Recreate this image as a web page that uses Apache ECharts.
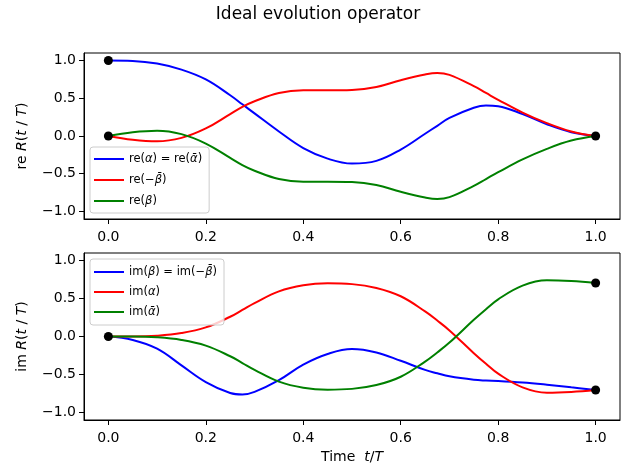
<!DOCTYPE html>
<html><head><meta charset="utf-8">
<script src="https://cdn.jsdelivr.net/npm/echarts@6/dist/echarts.min.js"></script>
<style>html,body{margin:0;padding:0;background:#fff}#c{width:636px;height:468px}</style>
</head><body><div id="c"></div><script>
// ---- data ----
const tVals = [0,0.05,0.1,0.15,0.2,0.25,0.275,0.3,0.35,0.4,0.45,0.5,0.55,0.6,0.65,0.675,0.7,0.75,0.775,0.8,0.85,0.9,0.95,1.0];
const xTicks = [0,0.2,0.4,0.6,0.8,1.0];
const yTicks = [-1,-0.5,0,0.5,1];
// top panel (real parts)
const reAlpha        = [1.0,0.995,0.96,0.88,0.75,0.54,0.42,0.30,0.06,-0.16,-0.30,-0.365,-0.33,-0.18,0.03,0.135,0.24,0.375,0.405,0.395,0.29,0.155,0.05,0];
const reMinusBetaBar = [0,-0.05,-0.07,-0.025,0.10,0.29,0.385,0.46,0.57,0.605,0.605,0.61,0.65,0.74,0.815,0.835,0.81,0.66,0.57,0.48,0.31,0.17,0.06,0];
const reBeta         = [0,0.05,0.07,0.025,-0.10,-0.29,-0.385,-0.46,-0.57,-0.605,-0.605,-0.61,-0.65,-0.74,-0.815,-0.835,-0.81,-0.66,-0.57,-0.48,-0.31,-0.17,-0.06,0];
const topDots        = [[0,1],[0,0],[1,0]];
// bottom panel (imaginary parts)
const imBeta     = [0,-0.045,-0.16,-0.38,-0.60,-0.745,-0.765,-0.73,-0.575,-0.37,-0.23,-0.165,-0.21,-0.32,-0.44,-0.485,-0.525,-0.57,-0.58,-0.585,-0.605,-0.635,-0.67,-0.705];
const imAlpha    = [0,0.0,0.01,0.045,0.12,0.26,0.35,0.44,0.595,0.675,0.70,0.69,0.64,0.53,0.33,0.21,0.08,-0.22,-0.36,-0.49,-0.67,-0.74,-0.73,-0.705];
const imAlphaBar = [0,0.0,-0.01,-0.045,-0.12,-0.26,-0.35,-0.44,-0.595,-0.675,-0.70,-0.69,-0.64,-0.53,-0.33,-0.21,-0.08,0.22,0.36,0.49,0.67,0.74,0.73,0.705];
const botDots    = [[0,0],[1,0.705],[1,-0.705]];

const names = {
  a: 're(α) = re(ᾱ)', b: 're(−β̄)', c: 're(β)',
  d: 'im(β) = im(−β̄)', e: 'im(α)', f: 'im(ᾱ)'
};
const richNames = {};
richNames[names.a] = '{n|re(}{i|α}{n|) = re(}{i|ᾱ}{n|)}';
richNames[names.b] = '{n|re(−}{i|β\u0304}{n|)}';
richNames[names.c] = '{n|re(}{i|β}{n|)}';
richNames[names.d] = '{n|im(}{i|β}{n|) = im(−}{i|β\u0304}{n|)}';
richNames[names.e] = '{n|im(}{i|α}{n|)}';
richNames[names.f] = '{n|im(}{i|ᾱ}{n|)}';

const FONT = 'DejaVu Sans';
const pairs = arr => tVals.map((t,i)=>[t,arr[i]]);
const fmtNum = v => (v<0?'−':'') + Math.abs(v).toFixed(1);

function xAx(gi, withName){
  const ax = {
    type:'value', gridIndex:gi, min:-0.05, max:1.05,
    axisLine:{show:true, onZero:false, lineStyle:{color:'#000',width:1}},
    axisTick:{show:true, length:5, customValues:xTicks, lineStyle:{color:'#000',width:1}},
    axisLabel:{customValues:xTicks, formatter:fmtNum, margin:11, color:'#000', fontFamily:FONT, fontSize:14},
    splitLine:{show:false}
  };
  if(withName){
    ax.name = '{n|Time  }{i|t}{n|/}{i|T}';
    ax.nameLocation = 'middle';
    ax.nameGap = 30;
    ax.nameTextStyle = {rich:{n:{fontFamily:FONT,fontSize:14,color:'#000'},i:{fontFamily:FONT,fontSize:14,fontStyle:'italic',color:'#000'}}};
  }
  return ax;
}
function yAx(gi, pre){
  return {
    type:'value', gridIndex:gi, min:-1.1, max:1.1,
    name:'{n|'+pre+' }{i|R}{n|(}{i|t}{n| / }{i|T}{n|)}',
    nameLocation:'middle', nameGap:55, nameRotate:90,
    nameTextStyle:{rich:{n:{fontFamily:FONT,fontSize:14,color:'#000'},i:{fontFamily:FONT,fontSize:14,fontStyle:'italic',color:'#000'}}},
    axisLine:{show:true, onZero:false, lineStyle:{color:'#000',width:1}},
    axisTick:{show:true, length:5, customValues:yTicks, lineStyle:{color:'#000',width:1}},
    axisLabel:{customValues:yTicks, formatter:fmtNum, margin:8, color:'#000', fontFamily:FONT, fontSize:14},
    splitLine:{show:false}
  };
}
function lineS(name, arr, color, ax){
  return {type:'line', name, data:pairs(arr), xAxisIndex:ax, yAxisIndex:ax,
    smooth:0.4, showSymbol:false, symbol:'none', lineStyle:{color, width:2}, itemStyle:{color},
    z:2, animation:false};
}
function dotS(data, ax){
  return {type:'scatter', data, xAxisIndex:ax, yAxisIndex:ax, symbolSize:9,
    itemStyle:{color:'#000', opacity:1}, z:5, animation:false, silent:true};
}
const legendText = {
  fontFamily:FONT, fontSize:11.5, color:'#000', lineHeight:14,
  rich:{n:{fontFamily:FONT,fontSize:11.5,color:'#000'},i:{fontFamily:FONT,fontSize:11.5,fontStyle:'italic',color:'#000'}}
};
function legendCfg(data, left, top, gap, pad){
  return {
    data, orient:'vertical', left, top, icon:'rect', itemWidth:30, itemHeight:2, itemGap:gap,
    padding:pad, borderColor:'#cccccc', borderWidth:1, borderRadius:3,
    backgroundColor:'rgba(255,255,255,0.8)', formatter:n=>richNames[n], textStyle:legendText,
    selectedMode:false
  };
}

const chart = echarts.init(document.getElementById('c'), null, {renderer:'canvas'});
chart.setOption({
  animation:false,
  backgroundColor:'#fff',
  title:{text:'Ideal evolution operator', left:'center', top:1,
    textStyle:{fontFamily:FONT, fontSize:17, fontWeight:'normal', color:'#000'}},
  grid:[
    {left:84, right:16, top:53, height:166, show:true, borderColor:'#000', borderWidth:1, backgroundColor:'transparent'},
    {left:84, right:16, top:253, height:167, show:true, borderColor:'#000', borderWidth:1, backgroundColor:'transparent'}
  ],
  xAxis:[xAx(0,false), xAx(1,true)],
  yAxis:[yAx(0,'re'), yAx(1,'im')],
  legend:[
    legendCfg([names.a,names.b,names.c], 90, 147, 7, [5,7,5,4]),
    legendCfg([names.d,names.e,names.f], 90, 259, 6, [6,7,6,4])
  ],
  series:[
    lineS(names.a, reAlpha, '#0000ff', 0),
    lineS(names.b, reMinusBetaBar, '#ff0000', 0),
    lineS(names.c, reBeta, '#008000', 0),
    dotS(topDots, 0),
    lineS(names.d, imBeta, '#0000ff', 1),
    lineS(names.e, imAlpha, '#ff0000', 1),
    lineS(names.f, imAlphaBar, '#008000', 1),
    dotS(botDots, 1)
  ]
});
</script></body></html>
